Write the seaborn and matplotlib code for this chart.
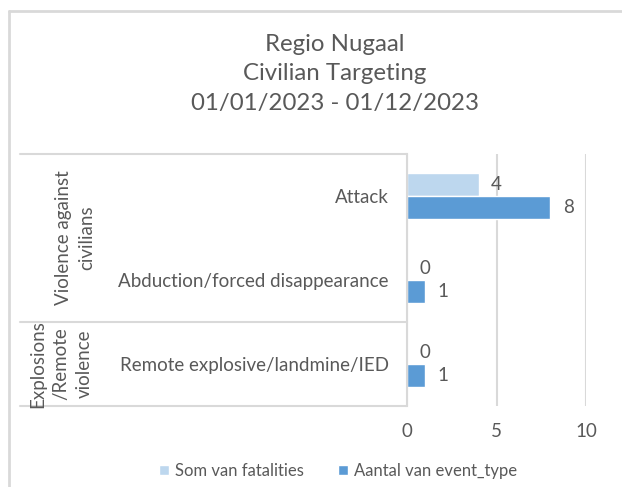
import matplotlib
matplotlib.use("Agg")
import matplotlib.pyplot as plt
import matplotlib.transforms as mtransforms
from matplotlib.lines import Line2D
import pandas as pd
import seaborn as sns

# chart data
groups = ["Violence against\ncivilians", "Violence against\ncivilians", "Explosions\n/Remote\nviolence"]
sub_events = ["Attack", "Abduction/forced disappearance", "Remote explosive/landmine/IED"]
fatalities = [4, 0, 0]
event_counts = [8, 1, 1]
series_names = ["Som van fatalities", "Aantal van event_type"]
x_ticks = [0, 5, 10]
title_lines = ["Regio Nugaal", "Civilian Targeting", "01/01/2023 - 01/12/2023"]

colors = ["#BDD7EE", "#5B9BD5"]
text_col = "#595959"
line_col = "#D9D9D9"
fs = 13.5

df = pd.concat([
    pd.DataFrame({"sub_event": sub_events, "value": fatalities, "series": series_names[0]}),
    pd.DataFrame({"sub_event": sub_events, "value": event_counts, "series": series_names[1]}),
])

sns.set_style("white")
plt.rcParams["font.family"] = ["Lato", "DejaVu Sans"]

W, H = 622, 487
fig = plt.figure(figsize=(W / 100, H / 100), dpi=100)
ax = fig.add_axes([407 / W, 1 - 406 / H, 179 / W, 252 / H])

sns.barplot(data=df, x="value", y="sub_event", hue="series", orient="h",
            palette=colors, saturation=1, width=0.55, ax=ax)

for c in ax.containers:
    ax.bar_label(c, fmt="%g", padding=9, fontsize=fs, color=text_col)

ax.set_xlim(0, 10)
ax.set_ylim(len(sub_events) - 0.5, -0.5)
ax.set_xticks(x_ticks)
ax.set_xlabel("")
ax.set_ylabel("")
ax.grid(axis="x", color=line_col, lw=1.5)
ax.set_axisbelow(True)
for s in ["top", "right", "bottom"]:
    ax.spines[s].set_visible(False)
ax.spines["left"].set_color(line_col)
ax.spines["left"].set_linewidth(1.5)
ax.tick_params(axis="x", length=0, pad=12, labelsize=fs, labelcolor=text_col)
ax.tick_params(axis="y", length=0, pad=13, labelsize=fs, labelcolor=text_col)

# multi-level category axis
trans = mtransforms.blended_transform_factory(ax.transAxes, ax.transData)
x_left = (20 - 407) / 179
bounds = [-0.5]
for i in range(1, len(groups)):
    if groups[i] != groups[i - 1]:
        bounds.append(i - 0.5)
bounds.append(len(groups) - 0.5)
for b in bounds:
    ax.plot([x_left, 0], [b, b], color=line_col, lw=1.5, transform=trans, clip_on=False)
for lo, hi in zip(bounds[:-1], bounds[1:]):
    name = groups[int(lo + 0.5)]
    xc = (75.5 - 407) / 179 if name.count("\n") == 1 else (61 - 407) / 179
    ax.text(xc, (lo + hi) / 2, name, rotation=90, ha="center", va="center",
            multialignment="center", fontsize=fs, color=text_col,
            transform=trans, linespacing=1.45)

sns.move_legend(ax, "center", bbox_to_anchor=(338 / W, 1 - 471 / H),
                bbox_transform=fig.transFigure, ncol=2, frameon=False, title=None,
                fontsize=12, handlelength=0.6, handleheight=0.6, handletextpad=0.4,
                columnspacing=2.0, labelcolor=text_col)

fig.text(335 / W, 1 - 74 / H, "\n".join(title_lines), ha="center", va="center",
         fontsize=17.3, color=text_col, linespacing=1.52)

# chart border
fig.add_artist(Line2D([8.5 / W, 8.5 / W], [0, 1 - 11 / H], color=line_col, lw=2))
fig.add_artist(Line2D([8.5 / W, 1], [1 - 11 / H, 1 - 11 / H], color=line_col, lw=2))

fig.savefig("out.png", dpi=100, facecolor="white")
